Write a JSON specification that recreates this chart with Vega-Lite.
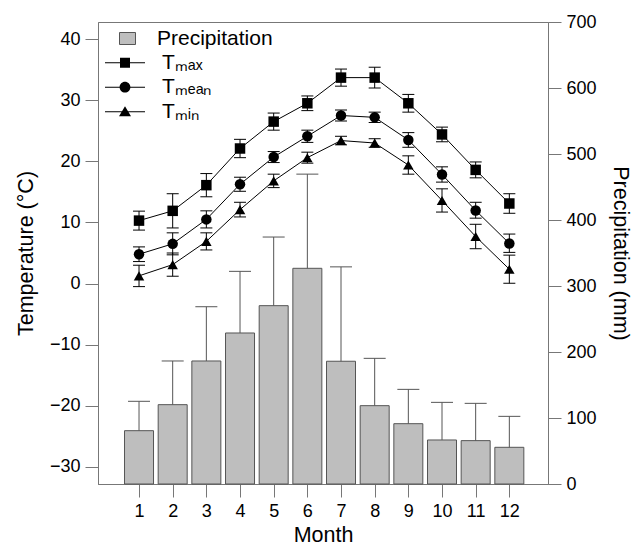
{
  "$schema": "https://vega.github.io/schema/vega-lite/v6.json",
  "width": 450,
  "height": 462,
  "autosize": {"type": "none"},
  "padding": {"left": 98, "top": 22, "right": 96, "bottom": 63},
  "background": "white",
  "config": {
    "view": {"stroke": "#777", "strokeWidth": 1},
    "axis": {"grid": false, "domainColor": "#777", "tickColor": "#777", "tickSize": 13, "labelFontSize": 18, "labelFont": "Liberation Sans", "labelColor": "black", "titleFont": "Liberation Sans", "titleFontSize": 21.5, "titleFontWeight": "normal", "titleColor": "black", "labelFlush": false, "labelOverlap": false},
    "legend": {"labelFont": "Liberation Sans", "labelFontSize": 21, "labelColor": "black"}
  },
  "datasets": {
    "precip": [
      {"month": 1, "precip": 80.8, "precip_hi": 125.3},
      {"month": 2, "precip": 120.2, "precip_hi": 186.4},
      {"month": 3, "precip": 186.4, "precip_hi": 268.6},
      {"month": 4, "precip": 228.8, "precip_hi": 322.2},
      {"month": 5, "precip": 270.2, "precip_hi": 374.2},
      {"month": 6, "precip": 326.8, "precip_hi": 469.5},
      {"month": 7, "precip": 186.0, "precip_hi": 329.0},
      {"month": 8, "precip": 118.7, "precip_hi": 190.4},
      {"month": 9, "precip": 91.4, "precip_hi": 143.4},
      {"month": 10, "precip": 66.7, "precip_hi": 123.7},
      {"month": 11, "precip": 65.7, "precip_hi": 122.2},
      {"month": 12, "precip": 55.6, "precip_hi": 102.5}
    ],
    "temp": [
      {"series": "Tmax", "month": 1, "value": 10.3, "lo": 8.75, "hi": 11.85},
      {"series": "Tmax", "month": 2, "value": 11.9, "lo": 9.1, "hi": 14.7},
      {"series": "Tmax", "month": 3, "value": 16.1, "lo": 14.2, "hi": 18.0},
      {"series": "Tmax", "month": 4, "value": 22.1, "lo": 20.6, "hi": 23.6},
      {"series": "Tmax", "month": 5, "value": 26.5, "lo": 25.1, "hi": 27.9},
      {"series": "Tmax", "month": 6, "value": 29.5, "lo": 28.3, "hi": 30.7},
      {"series": "Tmax", "month": 7, "value": 33.7, "lo": 32.3, "hi": 35.1},
      {"series": "Tmax", "month": 8, "value": 33.7, "lo": 32.0, "hi": 35.4},
      {"series": "Tmax", "month": 9, "value": 29.5, "lo": 28.05, "hi": 30.95},
      {"series": "Tmax", "month": 10, "value": 24.4, "lo": 23.2, "hi": 25.6},
      {"series": "Tmax", "month": 11, "value": 18.6, "lo": 17.3, "hi": 19.9},
      {"series": "Tmax", "month": 12, "value": 13.1, "lo": 11.5, "hi": 14.7},
      {"series": "Tmean", "month": 1, "value": 4.8, "lo": 3.6, "hi": 6.0},
      {"series": "Tmean", "month": 2, "value": 6.5, "lo": 4.7, "hi": 8.3},
      {"series": "Tmean", "month": 3, "value": 10.5, "lo": 9.1, "hi": 11.9},
      {"series": "Tmean", "month": 4, "value": 16.25, "lo": 15.1, "hi": 17.4},
      {"series": "Tmean", "month": 5, "value": 20.7, "lo": 19.8, "hi": 21.6},
      {"series": "Tmean", "month": 6, "value": 24.1, "lo": 23.1, "hi": 25.1},
      {"series": "Tmean", "month": 7, "value": 27.5, "lo": 26.6, "hi": 28.4},
      {"series": "Tmean", "month": 8, "value": 27.2, "lo": 26.35, "hi": 28.05},
      {"series": "Tmean", "month": 9, "value": 23.5, "lo": 22.3, "hi": 24.7},
      {"series": "Tmean", "month": 10, "value": 17.85, "lo": 16.6, "hi": 19.1},
      {"series": "Tmean", "month": 11, "value": 11.96, "lo": 10.7, "hi": 13.3},
      {"series": "Tmean", "month": 12, "value": 6.56, "lo": 5.1, "hi": 8.1},
      {"series": "Tmin", "month": 1, "value": 1.26, "lo": -0.5, "hi": 3.0},
      {"series": "Tmin", "month": 2, "value": 3.1, "lo": 1.2, "hi": 5.0},
      {"series": "Tmin", "month": 3, "value": 6.9, "lo": 5.5, "hi": 8.3},
      {"series": "Tmin", "month": 4, "value": 12.1, "lo": 10.9, "hi": 13.3},
      {"series": "Tmin", "month": 5, "value": 16.8, "lo": 15.7, "hi": 17.9},
      {"series": "Tmin", "month": 6, "value": 20.6, "lo": 19.7, "hi": 21.5},
      {"series": "Tmin", "month": 7, "value": 23.4, "lo": 22.7, "hi": 24.1},
      {"series": "Tmin", "month": 8, "value": 23.0, "lo": 22.3, "hi": 23.7},
      {"series": "Tmin", "month": 9, "value": 19.4, "lo": 17.9, "hi": 20.9},
      {"series": "Tmin", "month": 10, "value": 13.6, "lo": 11.7, "hi": 15.5},
      {"series": "Tmin", "month": 11, "value": 7.7, "lo": 5.7, "hi": 9.7},
      {"series": "Tmin", "month": 12, "value": 2.35, "lo": 0.05, "hi": 4.65}
    ]
  },
  "layer": [
    {
      "data": {"name": "precip"},
      "layer": [
        {
          "mark": {"type": "bar", "size": 29, "stroke": "#555", "strokeWidth": 1},
          "encoding": {
            "x": {"field": "month", "type": "quantitative", "scale": {"domain": [-0.07, 13], "nice": false, "zero": false},
              "axis": {"values": [1, 2, 3, 4, 5, 6, 7, 8, 9, 10, 11, 12], "title": "Month", "labelPadding": 5, "titlePadding": 4}},
            "y": {"field": "precip", "type": "quantitative", "scale": {"domain": [0, 700], "nice": false},
              "axis": {"orient": "right", "values": [0, 100, 200, 300, 400, 500, 600, 700], "title": "Precipitation (mm)", "labelPadding": 5, "titlePadding": 12}},
            "fill": {"datum": "Precipitation", "scale": {"range": ["#bebebe"]},
              "legend": {"title": null, "orient": "none", "legendX": 7, "legendY": 4.5, "symbolType": "M-0.3,-0.3H0.5V0.3H-0.3Z", "symbolSize": 1600, "clipHeight": 24, "symbolStrokeColor": "#555", "symbolStrokeWidth": 1, "symbolOpacity": 1, "labelOffset": 11}}
          }
        },
        {
          "mark": {"type": "rule", "color": "#555", "strokeWidth": 1},
          "encoding": {
            "x": {"field": "month", "type": "quantitative"},
            "y": {"field": "precip", "type": "quantitative"},
            "y2": {"field": "precip_hi"}
          }
        },
        {
          "mark": {"type": "tick", "orient": "horizontal", "size": 22, "thickness": 1, "color": "#555", "opacity": 1},
          "encoding": {
            "x": {"field": "month", "type": "quantitative"},
            "y": {"field": "precip_hi", "type": "quantitative"}
          }
        }
      ]
    },
    {
      "data": {"name": "temp"},
      "layer": [
        {
          "mark": {"type": "line", "color": "black", "strokeWidth": 1},
          "encoding": {
            "x": {"field": "month", "type": "quantitative"},
            "y": {"field": "value", "type": "quantitative", "scale": {"domain": [-32.8, 42.8], "nice": false, "zero": false},
              "axis": {"orient": "left", "values": [-30, -20, -10, 0, 10, 20, 30, 40], "title": "Temperature (°C)", "labelPadding": 5, "titlePadding": 12}},
            "detail": {"field": "series"}
          }
        },
        {
          "mark": {"type": "rule", "color": "black", "strokeWidth": 1},
          "encoding": {
            "x": {"field": "month", "type": "quantitative"},
            "y": {"field": "lo", "type": "quantitative", "axis": {"title": "Temperature (°C)"}},
            "y2": {"field": "hi"}
          }
        },
        {
          "mark": {"type": "tick", "orient": "horizontal", "size": 12, "thickness": 1, "color": "black", "opacity": 1},
          "encoding": {
            "x": {"field": "month", "type": "quantitative"},
            "y": {"field": "lo", "type": "quantitative", "axis": {"title": "Temperature (°C)"}}
          }
        },
        {
          "mark": {"type": "tick", "orient": "horizontal", "size": 12, "thickness": 1, "color": "black", "opacity": 1},
          "encoding": {
            "x": {"field": "month", "type": "quantitative"},
            "y": {"field": "hi", "type": "quantitative", "axis": {"title": "Temperature (°C)"}}
          }
        },
        {
          "mark": {"type": "point", "filled": true, "color": "black", "opacity": 1, "size": 110},
          "encoding": {
            "x": {"field": "month", "type": "quantitative"},
            "y": {"field": "value", "type": "quantitative", "axis": {"title": "Temperature (°C)"}},
            "shape": {"field": "series", "type": "nominal", "scale": {"domain": ["Tmax", "Tmean", "Tmin"], "range": ["square", "circle", "triangle-up"]}, "legend": null}
          }
        },
        {
          "mark": {"type": "point", "filled": true, "color": "black", "opacity": 1, "size": 0},
          "encoding": {
            "x": {"field": "month", "type": "quantitative"},
            "y": {"field": "value", "type": "quantitative", "axis": {"title": "Temperature (°C)"}},
            "shape": {"field": "series", "type": "nominal",
              "scale": {"domain": ["Tmax", "Tmean", "Tmin"], "range": [
                "M-1,-0.025H1V0.025H-1ZM-0.25,-0.25H0.25V0.25H-0.25Z",
                "M-1,-0.025H1V0.025H-1ZM-0.27,0A0.27,0.27,0,1,1,0.27,0A0.27,0.27,0,1,1,-0.27,0Z",
                "M-1,-0.025H1V0.025H-1ZM0,-0.27L0.3,0.23L-0.3,0.23Z"]},
              "legend": {"title": null, "orient": "none", "legendX": 7, "legendY": 28.7, "symbolSize": 1600, "clipHeight": 24, "labelOffset": 17, "rowPadding": 0.5,
                "symbolFillColor": "black", "symbolStrokeWidth": 0, "symbolOpacity": 1,
                "labelExpr": "datum.label == 'Tmax' ? 'Tₘₐₓ' : datum.label == 'Tmean' ? 'Tₘₑₐₙ' : 'Tₘᵢₙ'"}}
          }
        }
      ],
      "resolve": {"scale": {"shape": "independent"}}
    }
  ],
  "resolve": {"scale": {"y": "independent"}}
}
